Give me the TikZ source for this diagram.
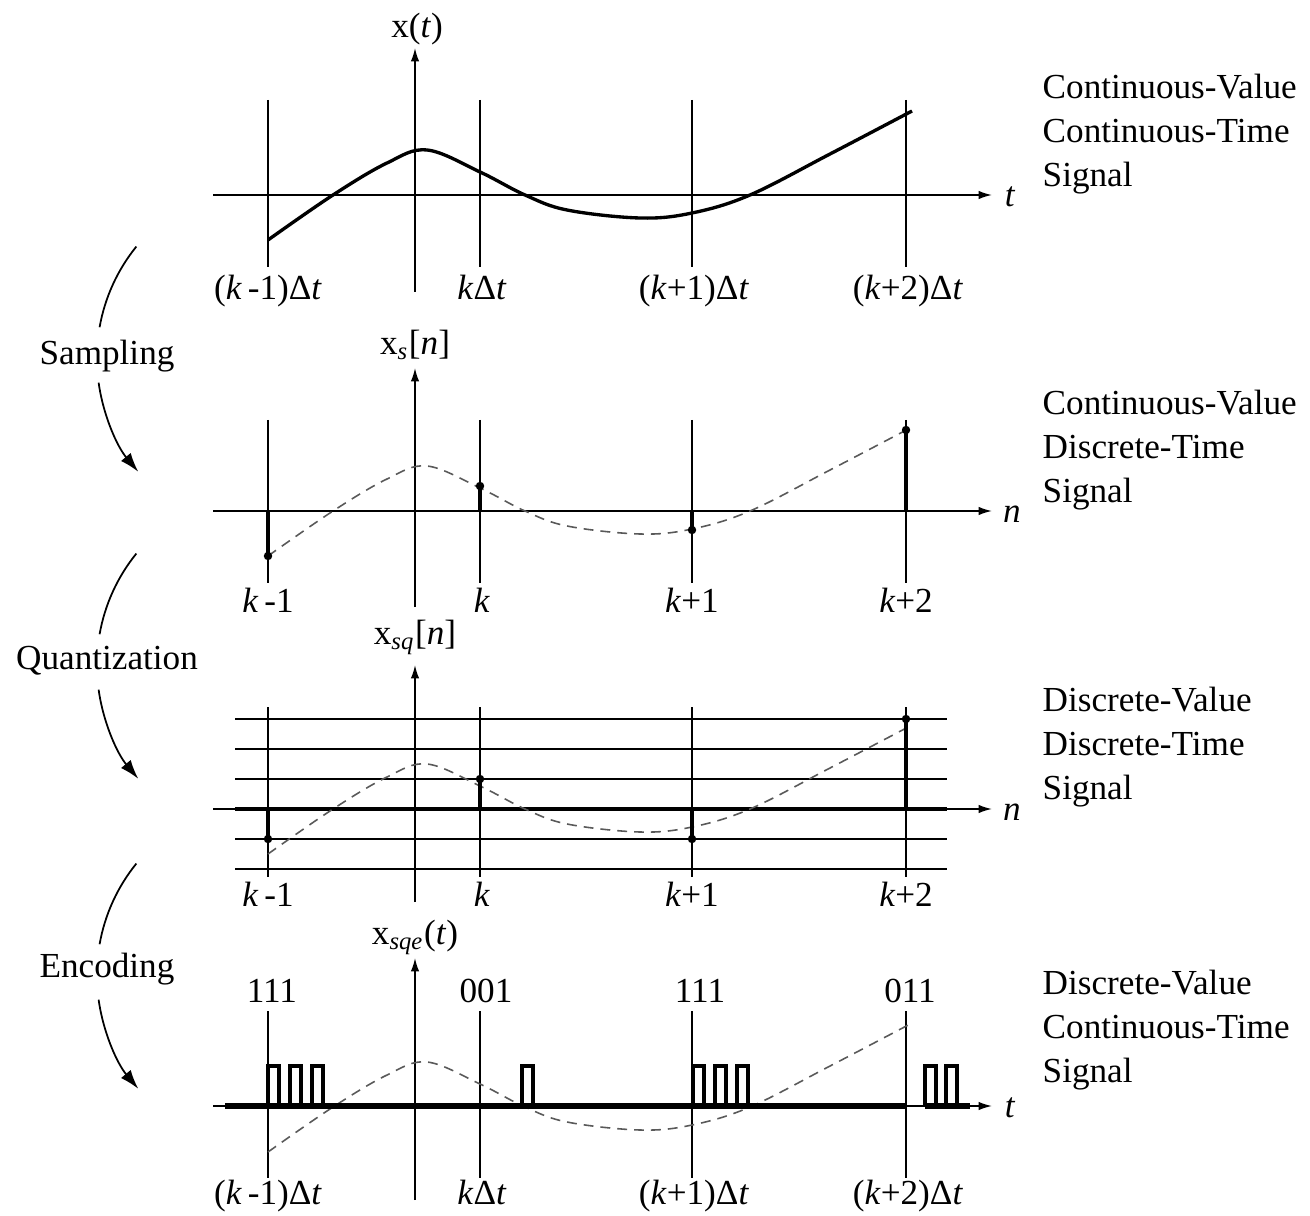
\documentclass[tikz,border=0pt]{standalone}
\usepackage{fontspec}
\setmainfont{Liberation Serif}
\usetikzlibrary{arrows.meta}
\tikzset{
  grid line/.style={line width=0.45pt},
  axis/.style={line width=0.45pt, -{Latex[length=3.8pt,width=2.4pt]}},
  signal/.style={line width=0.95pt},
  trace/.style={dash pattern=on 2.8pt off 2pt, line width=0.45pt, black!65},
  stem/.style={line width=1.2pt},
  pulse/.style={line width=1.05pt},
  dot/.style={circle, fill, inner sep=0pt, minimum size=2.4pt},
  lbl/.style={font=\fontsize{10}{12}\selectfont, inner sep=0pt, text height=7.5pt, text depth=2.3pt},
  desc/.style={font=\fontsize{10}{12.6}\selectfont, align=left, anchor=west, inner sep=0pt},
  flow/.style={line width=0.5pt},
  flow tip/.style={line width=0.5pt, -{Latex[length=5.5pt,width=3.6pt]}}
}
% signal shape, in panel 1 pixel coordinates
\newcommand\sigcurve{plot[smooth, tension=0.6] coordinates {(268,240) (333,195) (387,163) (427,150) (480,172) (525,195) (567,210) (640,218) (692,213) (750,195) (830,154) (912,111)}}
\begin{document}
\begin{tikzpicture}[x=0.01cm, y=-0.01cm]
    \useasboundingbox (0,0) rectangle (1310,1216);

    % Panel 1: continuous-value continuous-time
    \foreach \x in {268,480,692,906}
        \draw[grid line] (\x,100) -- (\x,267);
    \draw[axis] (213,195) -- (992,195);
    \draw[axis] (415,292) -- (415,48);
    \draw[signal] \sigcurve;
    \node[lbl] (xt) at (417,28) {x(\textit{t})};
    \node[lbl] (t1) at (1010,197) {\textit{t}};
    \node[lbl] (a1) at (268,290) {(\textit{k}\,-1)Δ\textit{t}};
    \node[lbl] (b1) at (482,290) {\textit{k}Δ\textit{t}};
    \node[lbl] (c1) at (694,290) {(\textit{k}+1)Δ\textit{t}};
    \node[lbl] (d1) at (908,290) {(\textit{k}+2)Δ\textit{t}};
    \node[desc] (cvct) at (1042,134) {Continuous-Value\\Continuous-Time\\Signal};

    % Sampling
    \draw[flow] (274,358) ++(141:1.77cm) arc[start angle=141, end angle=170, radius=1.77cm];
    \draw[flow tip] (274,358) ++(188:1.77cm) arc[start angle=188, end angle=220, radius=1.77cm];
    \node[lbl] (samp) at (107,355) {Sampling};

    % Panel 2: continuous-value discrete-time
    \foreach \x in {268,480,692,906}
        \draw[grid line] (\x,420) -- (\x,583);
    \draw[axis] (213,511) -- (992,511);
    \draw[axis] (415,607) -- (415,368);
    \begin{scope}[shift={(0,316)}]
        \draw[trace] \sigcurve;
    \end{scope}
    \foreach \x/\y in {268/556,480/486,692/530,906/430} {
        \draw[stem] (\x,511) -- (\x,\y);
        \node[dot] at (\x,\y) {};
    }
    \node[lbl] (xs) at (415,345) {x\textsubscript{\textit{s}}[\textit{n}]};
    \node[lbl] (n2) at (1012,513) {\textit{n}};
    \node[lbl] (a2) at (268,603) {\textit{k}\,-1};
    \node[lbl] (b2) at (482,603) {\textit{k}};
    \node[lbl] (c2) at (692,603) {\textit{k}+1};
    \node[lbl] (d2) at (906,603) {\textit{k}+2};
    \node[desc] (cvdt) at (1042,450) {Continuous-Value\\Discrete-Time\\Signal};

    % Quantization
    \draw[flow] (274,665) ++(141:1.77cm) arc[start angle=141, end angle=170, radius=1.77cm];
    \draw[flow tip] (274,665) ++(188:1.77cm) arc[start angle=188, end angle=220, radius=1.77cm];
    \node[lbl] (quant) at (107,660) {Quantization};

    % Panel 3: discrete-value discrete-time
    \foreach \x in {268,480,692,906}
        \draw[grid line] (\x,707) -- (\x,877);
    \foreach \y in {719,749,779,839,869}
        \draw[grid line] (235,\y) -- (947,\y);
    \draw[axis] (213,809) -- (992,809);
    \draw[line width=1.1pt] (235,809) -- (947,809);
    \draw[axis] (415,902) -- (415,665);
    \begin{scope}[shift={(0,614)}]
        \draw[trace] \sigcurve;
    \end{scope}
    \foreach \x/\y in {268/839,480/779,692/839,906/719} {
        \draw[stem] (\x,809) -- (\x,\y);
        \node[dot] at (\x,\y) {};
    }
    \node[lbl] (xsq) at (415,635) {x\textsubscript{\textit{sq}}[\textit{n}]};
    \node[lbl] (n3) at (1012,811) {\textit{n}};
    \node[lbl] (a3) at (268,897) {\textit{k}\,-1};
    \node[lbl] (b3) at (482,897) {\textit{k}};
    \node[lbl] (c3) at (692,897) {\textit{k}+1};
    \node[lbl] (d3) at (906,897) {\textit{k}+2};
    \node[desc] (dvdt) at (1042,747) {Discrete-Value\\Discrete-Time\\Signal};

    % Encoding
    \draw[flow] (274,975) ++(141:1.77cm) arc[start angle=141, end angle=170, radius=1.77cm];
    \draw[flow tip] (274,975) ++(188:1.77cm) arc[start angle=188, end angle=220, radius=1.77cm];
    \node[lbl] (enc) at (107,968) {Encoding};

    % Panel 4: discrete-value continuous-time
    \foreach \x in {268,480,692,906}
        \draw[grid line] (\x,1011) -- (\x,1178);
    \draw[axis] (213,1106) -- (992,1106);
    \draw[axis] (415,1200) -- (415,958);
    \begin{scope}[shift={(0,912)}]
        \draw[trace] \sigcurve;
    \end{scope}
    \draw[pulse, line width=1.5pt] (225,1106) -- (906,1106);
    \draw[pulse, line width=1.5pt] (925,1106) -- (970,1106);
    \foreach \x in {268,290,312,522,693,715,737,925,946}
        \draw[pulse] (\x,1106) -- (\x,1066) -- (\x+11,1066) -- (\x+11,1106);
    \node[lbl] (xsqe) at (415,935) {x\textsubscript{\textit{sqe}}(\textit{t})};
    \node[lbl] (t4) at (1010,1108) {\textit{t}};
    \node[lbl] (w1) at (272,993) {111};
    \node[lbl] (w2) at (486,993) {001};
    \node[lbl] (w3) at (700,993) {111};
    \node[lbl] (w4) at (910,993) {011};
    \node[lbl] (a4) at (268,1195) {(\textit{k}\,-1)Δ\textit{t}};
    \node[lbl] (b4) at (482,1195) {\textit{k}Δ\textit{t}};
    \node[lbl] (c4) at (694,1195) {(\textit{k}+1)Δ\textit{t}};
    \node[lbl] (d4) at (908,1195) {(\textit{k}+2)Δ\textit{t}};
    \node[desc] (dvct) at (1042,1030) {Discrete-Value\\Continuous-Time\\Signal};
\end{tikzpicture}
\end{document}
